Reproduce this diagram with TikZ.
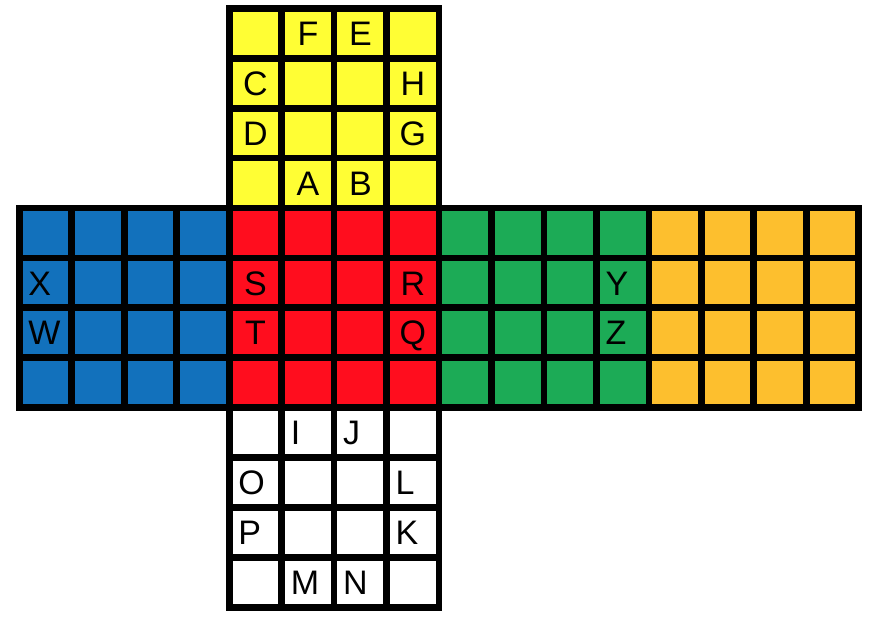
\documentclass[tikz,border=0pt]{standalone}
\usepackage{fontspec}
\setmainfont{Liberation Sans}
\definecolor{cubeyellow}{RGB}{255,254,52}
\definecolor{cubeblue}{RGB}{18,113,188}
\definecolor{cubered}{RGB}{255,13,30}
\definecolor{cubegreen}{RGB}{28,171,86}
\definecolor{cubeorange}{RGB}{253,191,46}
\begin{document}
\begin{tikzpicture}[x=52.46pt,y=-49.9pt,line width=6.7pt,
    lbl/.style={inner sep=0pt,text height=24.5pt,text depth=0pt,font=\fontsize{34}{40}\selectfont},
    lblw/.style={lbl,anchor=west}]
  \useasboundingbox (-19.35pt,8.35pt) rectangle (854.65pt,-607.65pt);
  \foreach \fx/\fy/\col in {4/0/cubeyellow,0/4/cubeblue,4/4/cubered,8/4/cubegreen,12/4/cubeorange,4/8/white} {
    \fill[\col] (\fx,\fy) rectangle +(4,4);
    \foreach \i in {0,...,3}
      \foreach \j in {0,...,3}
        \draw (\fx+\i,\fy+\j) rectangle +(1,1);
  }
  \foreach \c/\r/\t in {5/0/F,6/0/E,4/1/C,7/1/H,4/2/D,7/2/G,5/3/A,6/3/B,4/5/S,7/5/R,4/6/T,7/6/Q}
    \node[lbl] (l\t) at (\c+0.5,\r+0.5) {\t};
  \foreach \c/\r/\t in {0/5/X,0/6/W,11/5/Y,11/6/Z,5/8/I,6/8/J,4/9/O,7/9/L,4/10/P,7/10/K,5/11/M,6/11/N}
    \node[lblw] (l\t) at (\c+0.11,\r+0.5) {\t};
\end{tikzpicture}
\end{document}
